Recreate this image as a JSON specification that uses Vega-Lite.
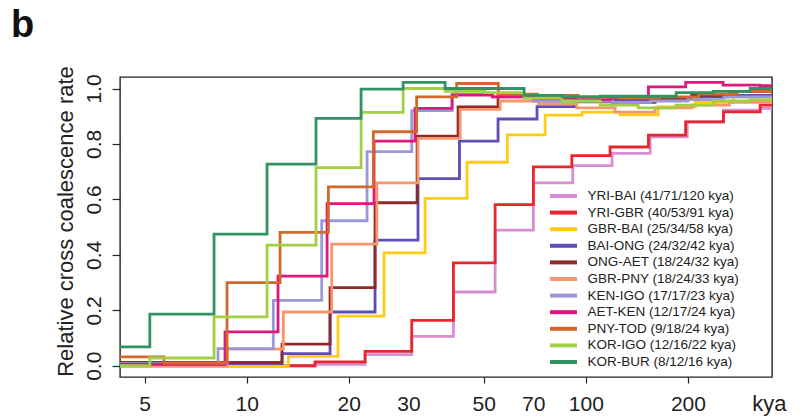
{
  "$schema": "https://vega.github.io/schema/vega-lite/v6.json",
  "width": 652,
  "height": 300,
  "autosize": "none",
  "padding": {"left": 120, "top": 77, "right": 31, "bottom": 42},
  "background": "white",
  "title": {"text": "b", "anchor": "start", "frame": "group", "fontSize": 38, "fontWeight": "bold", "font": "Liberation Sans", "color": "#111", "dx": -109, "dy": 36, "offset": 27, "baseline": "alphabetic"},
  "data": {"values": [
    {"p": "YRI-BAI (41/71/120 kya)", "t": 3, "r": 0.0},
    {"p": "YRI-BAI (41/71/120 kya)", "t": 15.9, "r": 0.005},
    {"p": "YRI-BAI (41/71/120 kya)", "t": 22.34, "r": 0.04},
    {"p": "YRI-BAI (41/71/120 kya)", "t": 30.67, "r": 0.106},
    {"p": "YRI-BAI (41/71/120 kya)", "t": 40.69, "r": 0.266},
    {"p": "YRI-BAI (41/71/120 kya)", "t": 54.02, "r": 0.489},
    {"p": "YRI-BAI (41/71/120 kya)", "t": 70.04, "r": 0.66},
    {"p": "YRI-BAI (41/71/120 kya)", "t": 91.5, "r": 0.722},
    {"p": "YRI-BAI (41/71/120 kya)", "t": 119.5, "r": 0.766},
    {"p": "YRI-BAI (41/71/120 kya)", "t": 154.8, "r": 0.826},
    {"p": "YRI-BAI (41/71/120 kya)", "t": 199, "r": 0.88},
    {"p": "YRI-BAI (41/71/120 kya)", "t": 254.6, "r": 0.922},
    {"p": "YRI-BAI (41/71/120 kya)", "t": 326.7, "r": 0.928},
    {"p": "YRI-BAI (41/71/120 kya)", "t": 400, "r": 0.928},

    {"p": "YRI-GBR (40/53/91 kya)", "t": 3, "r": 0.0},
    {"p": "YRI-GBR (40/53/91 kya)", "t": 15.9, "r": 0.014},
    {"p": "YRI-GBR (40/53/91 kya)", "t": 22.34, "r": 0.052},
    {"p": "YRI-GBR (40/53/91 kya)", "t": 30.67, "r": 0.164},
    {"p": "YRI-GBR (40/53/91 kya)", "t": 40.69, "r": 0.371},
    {"p": "YRI-GBR (40/53/91 kya)", "t": 54.02, "r": 0.581},
    {"p": "YRI-GBR (40/53/91 kya)", "t": 70.04, "r": 0.717},
    {"p": "YRI-GBR (40/53/91 kya)", "t": 90.94, "r": 0.758},
    {"p": "YRI-GBR (40/53/91 kya)", "t": 117.9, "r": 0.789},
    {"p": "YRI-GBR (40/53/91 kya)", "t": 153.0, "r": 0.832},
    {"p": "YRI-GBR (40/53/91 kya)", "t": 196.9, "r": 0.88},
    {"p": "YRI-GBR (40/53/91 kya)", "t": 254.6, "r": 0.916},
    {"p": "YRI-GBR (40/53/91 kya)", "t": 326.7, "r": 0.94},
    {"p": "YRI-GBR (40/53/91 kya)", "t": 400, "r": 0.94},

    {"p": "GBR-BAI (25/34/58 kya)", "t": 3, "r": 0.0},
    {"p": "GBR-BAI (25/34/58 kya)", "t": 13.27, "r": 0.034},
    {"p": "GBR-BAI (25/34/58 kya)", "t": 18.59, "r": 0.179},
    {"p": "GBR-BAI (25/34/58 kya)", "t": 25.41, "r": 0.407},
    {"p": "GBR-BAI (25/34/58 kya)", "t": 33.57, "r": 0.604},
    {"p": "GBR-BAI (25/34/58 kya)", "t": 44.66, "r": 0.734},
    {"p": "GBR-BAI (25/34/58 kya)", "t": 58.7, "r": 0.833},
    {"p": "GBR-BAI (25/34/58 kya)", "t": 75.85, "r": 0.904},
    {"p": "GBR-BAI (25/34/58 kya)", "t": 97.5, "r": 0.915},
    {"p": "GBR-BAI (25/34/58 kya)", "t": 126.3, "r": 0.905},
    {"p": "GBR-BAI (25/34/58 kya)", "t": 163.4, "r": 0.934},
    {"p": "GBR-BAI (25/34/58 kya)", "t": 210.2, "r": 0.95},
    {"p": "GBR-BAI (25/34/58 kya)", "t": 272, "r": 0.97},
    {"p": "GBR-BAI (25/34/58 kya)", "t": 400, "r": 0.97},

    {"p": "BAI-ONG (24/32/42 kya)", "t": 3, "r": 0.008},
    {"p": "BAI-ONG (24/32/42 kya)", "t": 12.71, "r": 0.044},
    {"p": "BAI-ONG (24/32/42 kya)", "t": 17.61, "r": 0.194},
    {"p": "BAI-ONG (24/32/42 kya)", "t": 23.9, "r": 0.453},
    {"p": "BAI-ONG (24/32/42 kya)", "t": 32.0, "r": 0.675},
    {"p": "BAI-ONG (24/32/42 kya)", "t": 42.4, "r": 0.81},
    {"p": "BAI-ONG (24/32/42 kya)", "t": 55.1, "r": 0.89},
    {"p": "BAI-ONG (24/32/42 kya)", "t": 71.8, "r": 0.935},
    {"p": "BAI-ONG (24/32/42 kya)", "t": 93, "r": 0.952},
    {"p": "BAI-ONG (24/32/42 kya)", "t": 120, "r": 0.96},
    {"p": "BAI-ONG (24/32/42 kya)", "t": 160, "r": 0.962},
    {"p": "BAI-ONG (24/32/42 kya)", "t": 205, "r": 0.97},
    {"p": "BAI-ONG (24/32/42 kya)", "t": 265, "r": 0.975},
    {"p": "BAI-ONG (24/32/42 kya)", "t": 400, "r": 0.975},

    {"p": "ONG-AET (18/24/32 kya)", "t": 3, "r": 0.012},
    {"p": "ONG-AET (18/24/32 kya)", "t": 12.71, "r": 0.078},
    {"p": "ONG-AET (18/24/32 kya)", "t": 17.61, "r": 0.282},
    {"p": "ONG-AET (18/24/32 kya)", "t": 23.9, "r": 0.588},
    {"p": "ONG-AET (18/24/32 kya)", "t": 31.8, "r": 0.828},
    {"p": "ONG-AET (18/24/32 kya)", "t": 42.0, "r": 0.934},
    {"p": "ONG-AET (18/24/32 kya)", "t": 55.1, "r": 0.975},
    {"p": "ONG-AET (18/24/32 kya)", "t": 71.8, "r": 0.962},
    {"p": "ONG-AET (18/24/32 kya)", "t": 93, "r": 0.958},
    {"p": "ONG-AET (18/24/32 kya)", "t": 120, "r": 0.95},
    {"p": "ONG-AET (18/24/32 kya)", "t": 160, "r": 0.96},
    {"p": "ONG-AET (18/24/32 kya)", "t": 205, "r": 0.975},
    {"p": "ONG-AET (18/24/32 kya)", "t": 265, "r": 0.99},
    {"p": "ONG-AET (18/24/32 kya)", "t": 400, "r": 0.99},

    {"p": "GBR-PNY (18/24/33 kya)", "t": 3, "r": 0.0},
    {"p": "GBR-PNY (18/24/33 kya)", "t": 8.75, "r": 0.06},
    {"p": "GBR-PNY (18/24/33 kya)", "t": 12.82, "r": 0.194},
    {"p": "GBR-PNY (18/24/33 kya)", "t": 17.81, "r": 0.439},
    {"p": "GBR-PNY (18/24/33 kya)", "t": 24.19, "r": 0.66},
    {"p": "GBR-PNY (18/24/33 kya)", "t": 32.0, "r": 0.82},
    {"p": "GBR-PNY (18/24/33 kya)", "t": 42.6, "r": 0.925},
    {"p": "GBR-PNY (18/24/33 kya)", "t": 55.9, "r": 0.955},
    {"p": "GBR-PNY (18/24/33 kya)", "t": 72.5, "r": 0.945},
    {"p": "GBR-PNY (18/24/33 kya)", "t": 94, "r": 0.93},
    {"p": "GBR-PNY (18/24/33 kya)", "t": 122, "r": 0.915},
    {"p": "GBR-PNY (18/24/33 kya)", "t": 160, "r": 0.93},
    {"p": "GBR-PNY (18/24/33 kya)", "t": 205, "r": 0.94},
    {"p": "GBR-PNY (18/24/33 kya)", "t": 265, "r": 0.95},
    {"p": "GBR-PNY (18/24/33 kya)", "t": 400, "r": 0.95},

    {"p": "KEN-IGO (17/17/23 kya)", "t": 3, "r": 0.008},
    {"p": "KEN-IGO (17/17/23 kya)", "t": 8.23, "r": 0.062},
    {"p": "KEN-IGO (17/17/23 kya)", "t": 11.98, "r": 0.236},
    {"p": "KEN-IGO (17/17/23 kya)", "t": 16.64, "r": 0.523},
    {"p": "KEN-IGO (17/17/23 kya)", "t": 22.64, "r": 0.772},
    {"p": "KEN-IGO (17/17/23 kya)", "t": 30.67, "r": 0.92},
    {"p": "KEN-IGO (17/17/23 kya)", "t": 40.33, "r": 0.98},
    {"p": "KEN-IGO (17/17/23 kya)", "t": 53, "r": 0.97},
    {"p": "KEN-IGO (17/17/23 kya)", "t": 70, "r": 0.955},
    {"p": "KEN-IGO (17/17/23 kya)", "t": 91, "r": 0.955},
    {"p": "KEN-IGO (17/17/23 kya)", "t": 120, "r": 0.95},
    {"p": "KEN-IGO (17/17/23 kya)", "t": 155, "r": 0.955},
    {"p": "KEN-IGO (17/17/23 kya)", "t": 200, "r": 0.96},
    {"p": "KEN-IGO (17/17/23 kya)", "t": 255, "r": 0.97},
    {"p": "KEN-IGO (17/17/23 kya)", "t": 400, "r": 0.97},

    {"p": "AET-KEN (12/17/24 kya)", "t": 3, "r": 0.005},
    {"p": "AET-KEN (12/17/24 kya)", "t": 8.63, "r": 0.122},
    {"p": "AET-KEN (12/17/24 kya)", "t": 12.37, "r": 0.323},
    {"p": "AET-KEN (12/17/24 kya)", "t": 17.26, "r": 0.585},
    {"p": "AET-KEN (12/17/24 kya)", "t": 23.74, "r": 0.81},
    {"p": "AET-KEN (12/17/24 kya)", "t": 31.37, "r": 0.928},
    {"p": "AET-KEN (12/17/24 kya)", "t": 40.33, "r": 0.976},
    {"p": "AET-KEN (12/17/24 kya)", "t": 53, "r": 0.97},
    {"p": "AET-KEN (12/17/24 kya)", "t": 70, "r": 0.965},
    {"p": "AET-KEN (12/17/24 kya)", "t": 91, "r": 0.96},
    {"p": "AET-KEN (12/17/24 kya)", "t": 117.9, "r": 0.965},
    {"p": "AET-KEN (12/17/24 kya)", "t": 153, "r": 1.006},
    {"p": "AET-KEN (12/17/24 kya)", "t": 197, "r": 1.022},
    {"p": "AET-KEN (12/17/24 kya)", "t": 254, "r": 1.012},
    {"p": "AET-KEN (12/17/24 kya)", "t": 326, "r": 1.01},
    {"p": "AET-KEN (12/17/24 kya)", "t": 400, "r": 1.01},

    {"p": "PNY-TOD (9/18/24 kya)", "t": 3, "r": 0.032},
    {"p": "PNY-TOD (9/18/24 kya)", "t": 5.7, "r": 0.01},
    {"p": "PNY-TOD (9/18/24 kya)", "t": 8.75, "r": 0.30},
    {"p": "PNY-TOD (9/18/24 kya)", "t": 12.54, "r": 0.481},
    {"p": "PNY-TOD (9/18/24 kya)", "t": 17.41, "r": 0.645},
    {"p": "PNY-TOD (9/18/24 kya)", "t": 23.63, "r": 0.844},
    {"p": "PNY-TOD (9/18/24 kya)", "t": 31.7, "r": 0.97},
    {"p": "PNY-TOD (9/18/24 kya)", "t": 41.6, "r": 1.018},
    {"p": "PNY-TOD (9/18/24 kya)", "t": 55.2, "r": 0.98},
    {"p": "PNY-TOD (9/18/24 kya)", "t": 72, "r": 0.975},
    {"p": "PNY-TOD (9/18/24 kya)", "t": 95, "r": 0.97},
    {"p": "PNY-TOD (9/18/24 kya)", "t": 125, "r": 0.965},
    {"p": "PNY-TOD (9/18/24 kya)", "t": 165, "r": 0.97},
    {"p": "PNY-TOD (9/18/24 kya)", "t": 215, "r": 0.98},
    {"p": "PNY-TOD (9/18/24 kya)", "t": 280, "r": 0.99},
    {"p": "PNY-TOD (9/18/24 kya)", "t": 400, "r": 0.99},

    {"p": "KOR-IGO (12/16/22 kya)", "t": 3, "r": 0.0},
    {"p": "KOR-IGO (12/16/22 kya)", "t": 5.18, "r": 0.028},
    {"p": "KOR-IGO (12/16/22 kya)", "t": 8.01, "r": 0.176},
    {"p": "KOR-IGO (12/16/22 kya)", "t": 11.48, "r": 0.435},
    {"p": "KOR-IGO (12/16/22 kya)", "t": 16.01, "r": 0.715},
    {"p": "KOR-IGO (12/16/22 kya)", "t": 21.74, "r": 0.914},
    {"p": "KOR-IGO (12/16/22 kya)", "t": 28.92, "r": 1.0},
    {"p": "KOR-IGO (12/16/22 kya)", "t": 38.46, "r": 0.99},
    {"p": "KOR-IGO (12/16/22 kya)", "t": 50.47, "r": 0.985},
    {"p": "KOR-IGO (12/16/22 kya)", "t": 65.77, "r": 0.965},
    {"p": "KOR-IGO (12/16/22 kya)", "t": 85.12, "r": 0.955},
    {"p": "KOR-IGO (12/16/22 kya)", "t": 110.2, "r": 0.94},
    {"p": "KOR-IGO (12/16/22 kya)", "t": 142.7, "r": 0.93},
    {"p": "KOR-IGO (12/16/22 kya)", "t": 184.7, "r": 0.94},
    {"p": "KOR-IGO (12/16/22 kya)", "t": 237.5, "r": 0.955},
    {"p": "KOR-IGO (12/16/22 kya)", "t": 305.2, "r": 0.96},
    {"p": "KOR-IGO (12/16/22 kya)", "t": 400, "r": 0.96},

    {"p": "KOR-BUR (8/12/16 kya)", "t": 3, "r": 0.068},
    {"p": "KOR-BUR (8/12/16 kya)", "t": 5.18, "r": 0.186},
    {"p": "KOR-BUR (8/12/16 kya)", "t": 8.01, "r": 0.475},
    {"p": "KOR-BUR (8/12/16 kya)", "t": 11.48, "r": 0.727},
    {"p": "KOR-BUR (8/12/16 kya)", "t": 16.01, "r": 0.892},
    {"p": "KOR-BUR (8/12/16 kya)", "t": 21.74, "r": 0.998},
    {"p": "KOR-BUR (8/12/16 kya)", "t": 28.92, "r": 1.022},
    {"p": "KOR-BUR (8/12/16 kya)", "t": 38.46, "r": 1.0},
    {"p": "KOR-BUR (8/12/16 kya)", "t": 50.47, "r": 1.0},
    {"p": "KOR-BUR (8/12/16 kya)", "t": 65.77, "r": 0.975},
    {"p": "KOR-BUR (8/12/16 kya)", "t": 85.12, "r": 0.97},
    {"p": "KOR-BUR (8/12/16 kya)", "t": 110.2, "r": 0.972},
    {"p": "KOR-BUR (8/12/16 kya)", "t": 142.7, "r": 0.972},
    {"p": "KOR-BUR (8/12/16 kya)", "t": 184.7, "r": 0.985},
    {"p": "KOR-BUR (8/12/16 kya)", "t": 237.5, "r": 0.99},
    {"p": "KOR-BUR (8/12/16 kya)", "t": 305.2, "r": 1.0},
    {"p": "KOR-BUR (8/12/16 kya)", "t": 400, "r": 1.0}
  ]},
  "layer": [
    {
      "mark": {"type": "line", "interpolate": "step-after", "strokeWidth": 2.8, "clip": true},
      "encoding": {
        "x": {"field": "t", "type": "quantitative",
          "scale": {"type": "log", "domain": [4.23, 354], "nice": false},
          "axis": {"orient": "bottom", "values": [5, 10, 20, 50, 100, 200], "format": "d", "domain": false, "grid": false,
            "ticks": true, "tickSize": 6, "tickColor": "#222", "tickWidth": 1.2,
            "labelFontSize": 21, "labelFont": "Liberation Sans", "labelColor": "#222", "labelBaseline": "alphabetic", "labelPadding": 27.7, "labelFlush": false, "labelOverlap": false,
            "title": "kya", "titleFontSize": 22, "titleFont": "Liberation Sans", "titleFontWeight": "normal", "titleColor": "#222",
            "titleX": 631.7, "titleY": 33.7, "titleAlign": "left", "titleBaseline": "alphabetic"}},
        "y": {"field": "r", "type": "quantitative",
          "scale": {"domain": [-0.0405, 1.0415], "nice": false, "zero": false},
          "axis": {"values": [0, 0.2, 0.4, 0.6, 0.8, 1.0], "format": ".1f", "domain": false, "grid": false,
            "tickSize": 8, "tickColor": "#222", "tickWidth": 1.2,
            "labelAngle": -90, "labelAlign": "center", "labelBaseline": "alphabetic", "labelPadding": 12,
            "labelFontSize": 21, "labelFont": "Liberation Sans", "labelColor": "#222", "labelFlush": false, "labelOverlap": false,
            "title": "Relative cross coalescence rate", "titleFontSize": 22, "titleFont": "Liberation Sans", "titleFontWeight": "normal", "titleColor": "#222",
            "titleX": -48, "titleY": 144, "titleAngle": -90, "titleAlign": "center", "titleBaseline": "alphabetic"}},
        "color": {"field": "p", "type": "nominal",
          "scale": {
            "domain": ["YRI-BAI (41/71/120 kya)", "YRI-GBR (40/53/91 kya)", "GBR-BAI (25/34/58 kya)", "BAI-ONG (24/32/42 kya)", "ONG-AET (18/24/32 kya)", "GBR-PNY (18/24/33 kya)", "KEN-IGO (17/17/23 kya)", "AET-KEN (12/17/24 kya)", "PNY-TOD (9/18/24 kya)", "KOR-IGO (12/16/22 kya)", "KOR-BUR (8/12/16 kya)"],
            "range": ["#D98ED4", "#E8262E", "#FFCC11", "#5E4DB5", "#8E2B2B", "#F7966A", "#9B98D8", "#E0177B", "#D0692A", "#A3CF45", "#2F9462"]},
          "legend": {"orient": "none", "legendX": 435.5, "legendY": 111, "title": null, "padding": 0,
            "symbolType": "M-2.25,0H2.25", "symbolSize": 144, "symbolStrokeWidth": 4,
            "labelFontSize": 13.5, "labelFont": "Liberation Sans", "labelColor": "#222", "labelOffset": 16, "labelLimit": 300,
            "rowPadding": 0.6}}
      }
    },
    {
      "mark": {"type": "point", "opacity": 0, "clip": true},
      "encoding": {
        "x": {"field": "t", "type": "quantitative",
          "scale": {"type": "log", "domain": [4.23, 354], "nice": false},
          "axis": {"orient": "bottom", "values": [30, 70], "format": "d", "domain": false, "grid": false,
            "ticks": true, "tickSize": 6, "tickOpacity": 0,
            "labelFontSize": 21, "labelFont": "Liberation Sans", "labelColor": "#222", "labelBaseline": "alphabetic", "labelPadding": 27.7, "labelFlush": false, "labelOverlap": false,
            "title": null}}
      }
    }
  ],
  "resolve": {"axis": {"x": "independent"}},
  "config": {"view": {"stroke": "#222", "strokeWidth": 1.4}}
}
